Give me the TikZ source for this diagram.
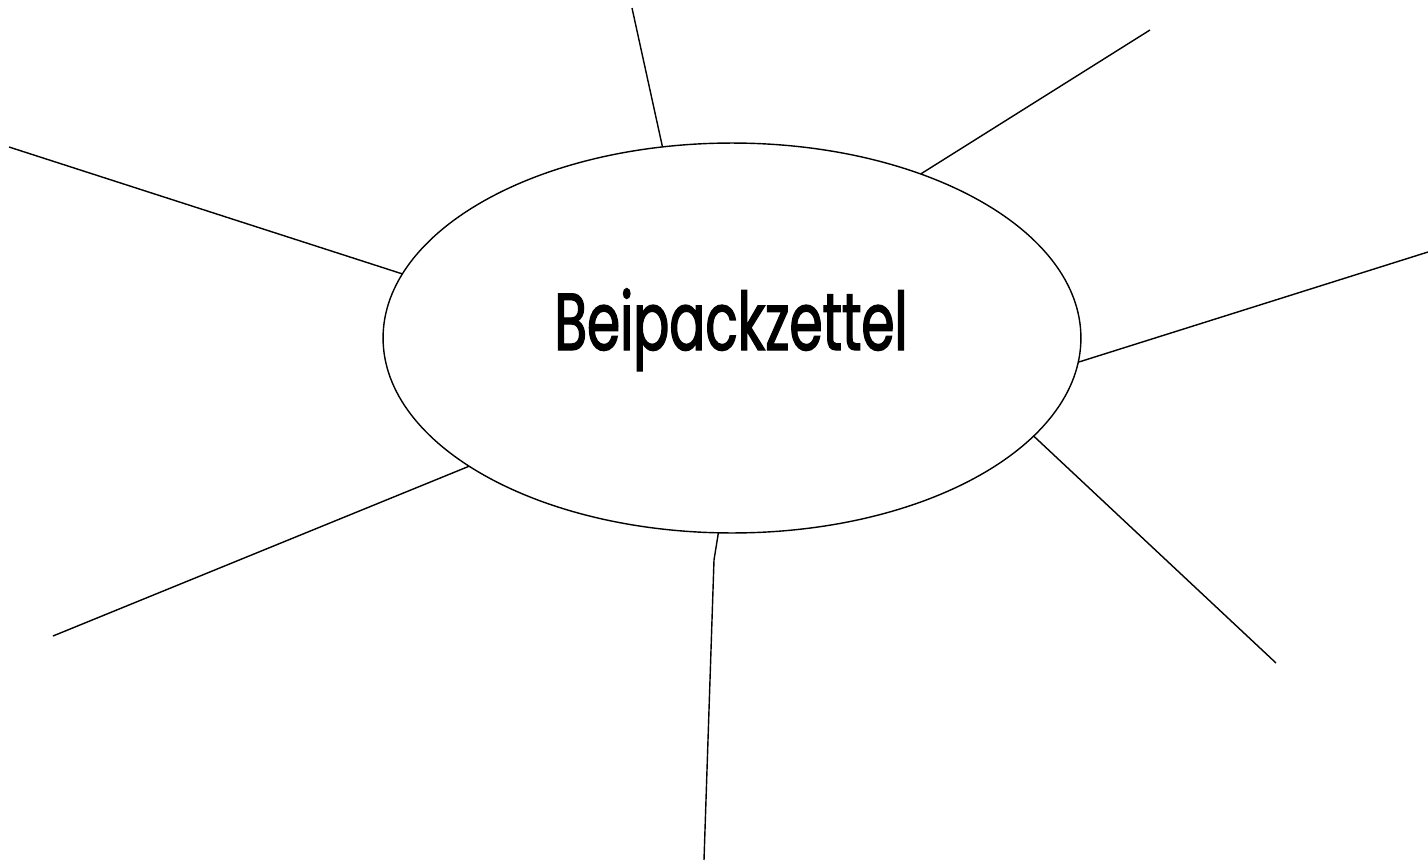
\documentclass[tikz,border=0pt]{standalone}
\usepackage{fontspec}
\usepackage{tikz}
\usetikzlibrary{shapes.geometric}
\newfontfamily\titlefont[FakeStretch=0.66, FakeBold=1.6]{Poppins}
\tikzstyle{oval} = [draw=black, ellipse, line width=0.8pt, inner sep=0pt,
outer sep=0pt, minimum width=13.96cm, minimum height=7.8cm]
\tikzstyle{spoke} = [draw=black, line width=0.8pt]
\tikzstyle{headline} = [font=\titlefont\fontsize{46}{46}\selectfont, inner sep=0pt, anchor=base]

\begin{document}
\begin{tikzpicture}[x=0.02cm, y=-0.02cm]
        \useasboundingbox (0,0) rectangle (1428,862);
        \node [oval] (center) at (732,338) {};
        \node [headline] (title) at (731,350) {Beipackzettel};
        \coordinate (topleft) at (632,8);
        \coordinate (topright) at (1150,30);
        \coordinate (right) at (1428,252);
        \coordinate (bottomright) at (1276,663);
        \coordinate (bend) at (714,560);
        \coordinate (bottom) at (704,860);
        \coordinate (bottomleft) at (53,636);
        \coordinate (left) at (9,147);
        \draw [spoke] (center.110.4) -- (topleft);
        \draw [spoke] (center.41.9) -- (topright);
        \draw [spoke] (center.-4.2) -- (right);
        \draw [spoke] (center.-18.8) -- (bottomright);
        \draw [spoke] (center.-94.2) -- (bend) -- (bottom);
        \draw [spoke] (center.206.3) -- (bottomleft);
        \draw [spoke] (center.169.6) -- (left);
    \end{tikzpicture}
\end{document}
